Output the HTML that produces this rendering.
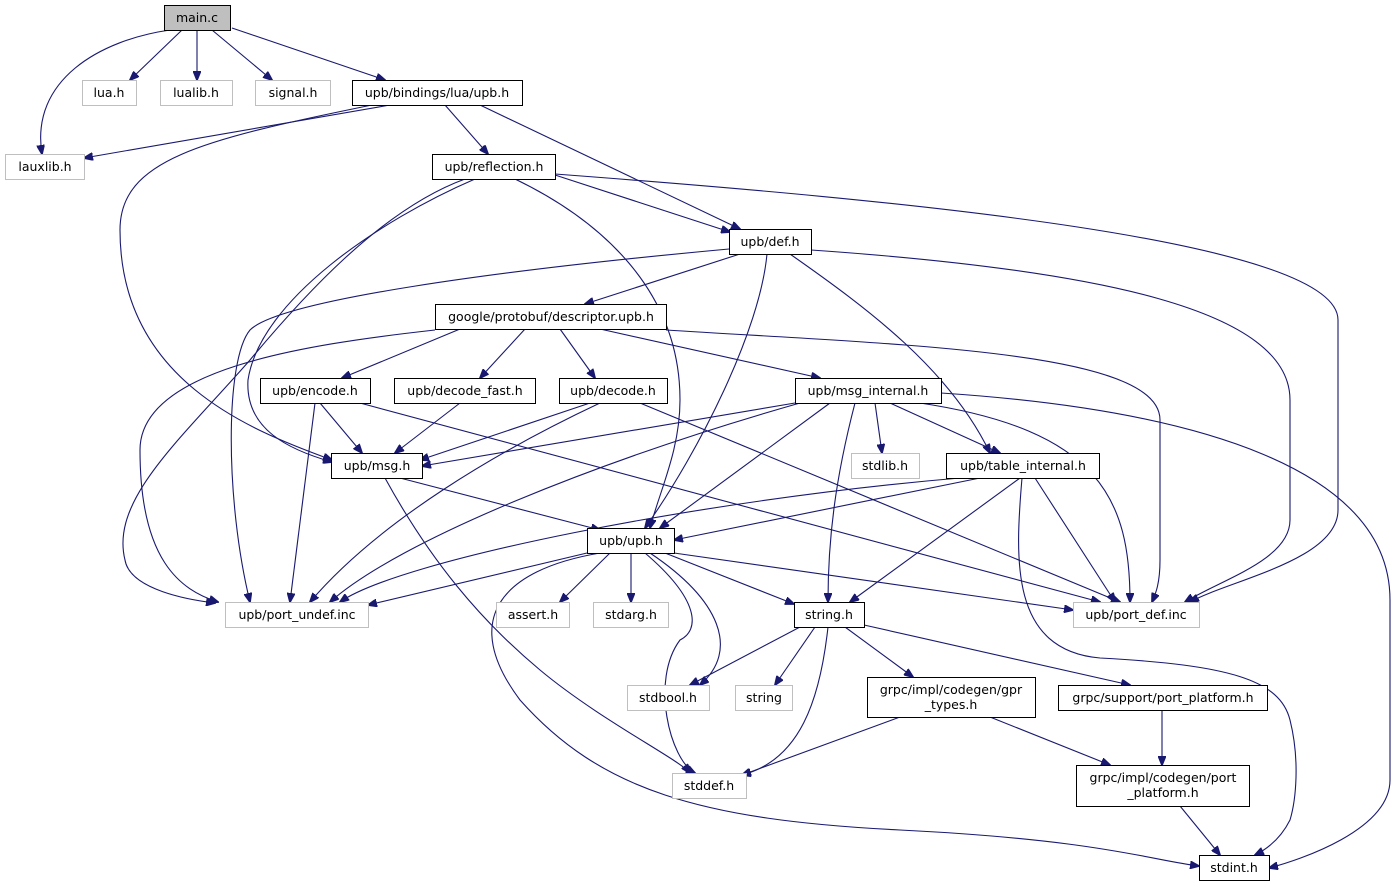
<!DOCTYPE html>
<html><head><meta charset="utf-8"><style>
html,body{margin:0;padding:0;background:#fff;}
svg text{font-family:"DejaVu Sans","Liberation Sans",sans-serif;font-size:12.5px;fill:#000;text-anchor:middle;}
.n{fill:#fff;stroke:#000;stroke-width:1;}
.g{fill:#fff;stroke:#bfbfbf;stroke-width:1;}
.e{fill:none;stroke:#191970;stroke-width:1.1;marker-end:url(#a);}
</style></head><body>
<svg width="1395" height="888" viewBox="0 0 1395 888" xmlns="http://www.w3.org/2000/svg">
<defs><marker id="a" markerWidth="10" markerHeight="8" refX="9" refY="4" orient="auto" markerUnits="userSpaceOnUse"><path d="M0,0 L10,4 L0,8 z" fill="#191970" stroke="#191970"/></marker></defs>
<g>
<path class="e" d="M170,30 C100,40 30,80 42,154"/>
<path class="e" d="M182,30 L130,80"/>
<path class="e" d="M197,30 L197,80"/>
<path class="e" d="M212,30 L272,80"/>
<path class="e" d="M232,28 L385,80"/>
<path class="e" d="M390,105 L84,158"/>
<path class="e" d="M445,105 L488,154"/>
<path class="e" d="M480,105 L740,229"/>
<path class="e" d="M372,105 C200,140 120,160 120,230 C120,380 250,430 332,460"/>
<path class="e" d="M555,175 L730,232"/>
<path class="e" d="M555,174 C900,200 1338,240 1338,320 L1338,510 C1338,560 1230,580 1190,602"/>
<path class="e" d="M465,179 C380,210 300,300 250,360 C180,440 110,500 125,560 C130,590 190,600 215,603"/>
<path class="e" d="M475,179 C380,220 260,300 248,380 C245,430 290,450 332,462"/>
<path class="e" d="M515,179 C600,220 680,290 680,400 C680,450 660,490 650,528"/>
<path class="e" d="M740,254 L585,304"/>
<path class="e" d="M767,254 C760,330 700,450 645,528"/>
<path class="e" d="M790,254 C870,310 950,370 990,453"/>
<path class="e" d="M811,250 C1100,270 1290,310 1290,400 L1290,520 C1290,560 1220,580 1185,602"/>
<path class="e" d="M729,249 C500,270 280,300 250,330 C225,360 225,500 250,602"/>
<path class="e" d="M435,330 C300,345 140,370 140,450 C140,560 180,590 218,602"/>
<path class="e" d="M460,329 L342,378"/>
<path class="e" d="M525,329 L480,378"/>
<path class="e" d="M560,329 L595,378"/>
<path class="e" d="M600,329 L820,378"/>
<path class="e" d="M666,330 C900,345 1160,350 1160,420 L1160,560 C1160,585 1155,595 1152,602"/>
<path class="e" d="M320,403 L362,453"/>
<path class="e" d="M315,403 L290,602"/>
<path class="e" d="M360,403 L1100,602"/>
<path class="e" d="M460,403 L395,453"/>
<path class="e" d="M590,403 L420,460"/>
<path class="e" d="M600,403 C500,450 380,520 310,602"/>
<path class="e" d="M640,403 L1120,602"/>
<path class="e" d="M795,403 L422,466"/>
<path class="e" d="M800,403 C600,460 400,540 330,602"/>
<path class="e" d="M830,403 L660,528"/>
<path class="e" d="M855,403 C835,480 828,540 828,602"/>
<path class="e" d="M875,403 L882,453"/>
<path class="e" d="M890,403 L1000,453"/>
<path class="e" d="M920,403 C1100,430 1130,500 1130,602"/>
<path class="e" d="M941,393 C1200,410 1390,470 1390,600 L1390,780 C1390,830 1300,860 1269,868"/>
<path class="e" d="M980,478 L674,540"/>
<path class="e" d="M960,478 C700,500 400,560 340,602"/>
<path class="e" d="M1020,478 L850,602"/>
<path class="e" d="M1035,478 L1115,602"/>
<path class="e" d="M1022,478 C1015,560 1010,650 1100,658 C1230,665 1280,680 1290,720 C1300,760 1296,800 1290,820 C1280,840 1265,850 1255,855"/>
<path class="e" d="M400,478 L600,530"/>
<path class="e" d="M385,478 C430,560 480,620 540,670 C600,720 680,760 690,773"/>
<path class="e" d="M587,553 L368,605"/>
<path class="e" d="M610,553 L560,602"/>
<path class="e" d="M631,553 L631,602"/>
<path class="e" d="M665,553 L794,604"/>
<path class="e" d="M674,553 L1073,610"/>
<path class="e" d="M650,553 C720,600 740,650 700,685"/>
<path class="e" d="M645,553 C700,600 700,630 680,640 C650,680 670,760 695,773"/>
<path class="e" d="M600,553 C500,570 460,620 520,700 C600,790 700,820 900,830 C1100,840 1150,860 1199,866"/>
<path class="e" d="M800,627 L690,685"/>
<path class="e" d="M815,627 L775,685"/>
<path class="e" d="M828,627 C820,700 800,760 742,775"/>
<path class="e" d="M845,627 L913,677"/>
<path class="e" d="M864,625 L1130,685"/>
<path class="e" d="M900,717 L742,775"/>
<path class="e" d="M990,717 L1110,765"/>
<path class="e" d="M1162,710 L1162,765"/>
<path class="e" d="M1180,806 L1220,855"/>
</g>
<g>
<rect x="164.5" y="5.5" width="66" height="25" fill="#bfbfbf" stroke="#000"/><text x="197" y="22">main.c</text>
<rect class="g" x="82.5" y="80.5" width="54" height="25"/><text x="109" y="97">lua.h</text>
<rect class="g" x="160.5" y="80.5" width="72" height="25"/><text x="196" y="97">lualib.h</text>
<rect class="g" x="255.5" y="80.5" width="75" height="25"/><text x="293" y="97">signal.h</text>
<rect class="n" x="352.5" y="80.5" width="170" height="25"/><text x="437" y="97">upb/bindings/lua/upb.h</text>
<rect class="g" x="5.5" y="154.5" width="79" height="25"/><text x="45" y="171">lauxlib.h</text>
<rect class="n" x="432.5" y="154.5" width="123" height="25"/><text x="494" y="171">upb/reflection.h</text>
<rect class="n" x="729.5" y="229.5" width="82" height="25"/><text x="770" y="246">upb/def.h</text>
<rect class="n" x="435.5" y="304.5" width="231" height="25"/><text x="551" y="321">google/protobuf/descriptor.upb.h</text>
<rect class="n" x="260.5" y="378.5" width="110" height="25"/><text x="315" y="395">upb/encode.h</text>
<rect class="n" x="394.5" y="378.5" width="141" height="25"/><text x="465" y="395">upb/decode_fast.h</text>
<rect class="n" x="559.5" y="378.5" width="108" height="25"/><text x="613" y="395">upb/decode.h</text>
<rect class="n" x="795.5" y="378.5" width="146" height="25"/><text x="868" y="395">upb/msg_internal.h</text>
<rect class="n" x="331.5" y="453.5" width="91" height="25"/><text x="377" y="470">upb/msg.h</text>
<rect class="g" x="851.5" y="453.5" width="68" height="25"/><text x="885" y="470">stdlib.h</text>
<rect class="n" x="946.5" y="453.5" width="153" height="25"/><text x="1023" y="470">upb/table_internal.h</text>
<rect class="n" x="587.5" y="528.5" width="87" height="25"/><text x="631" y="545">upb/upb.h</text>
<rect class="g" x="225.5" y="602.5" width="143" height="25"/><text x="297" y="619">upb/port_undef.inc</text>
<rect class="g" x="496.5" y="602.5" width="73" height="25"/><text x="533" y="619">assert.h</text>
<rect class="g" x="593.5" y="602.5" width="75" height="25"/><text x="631" y="619">stdarg.h</text>
<rect class="n" x="794.5" y="602.5" width="70" height="25"/><text x="829" y="619">string.h</text>
<rect class="g" x="1073.5" y="602.5" width="126" height="25"/><text x="1136" y="619">upb/port_def.inc</text>
<rect class="g" x="627.5" y="685.5" width="82" height="25"/><text x="668" y="702">stdbool.h</text>
<rect class="g" x="735.5" y="685.5" width="57" height="25"/><text x="764" y="702">string</text>
<rect class="n" x="867.5" y="677.5" width="168" height="40"/><text x="951" y="694">grpc/impl/codegen/gpr</text><text x="951" y="709">_types.h</text>
<rect class="n" x="1058.5" y="685.5" width="209" height="25"/><text x="1163" y="702">grpc/support/port_platform.h</text>
<rect class="g" x="672.5" y="773.5" width="74" height="25"/><text x="709" y="790">stddef.h</text>
<rect class="n" x="1076.5" y="765.5" width="173" height="41"/><text x="1163" y="782">grpc/impl/codegen/port</text><text x="1163" y="797">_platform.h</text>
<rect class="n" x="1199.5" y="855.5" width="70" height="25"/><text x="1234" y="872">stdint.h</text>
</g>
</svg>
</body></html>
